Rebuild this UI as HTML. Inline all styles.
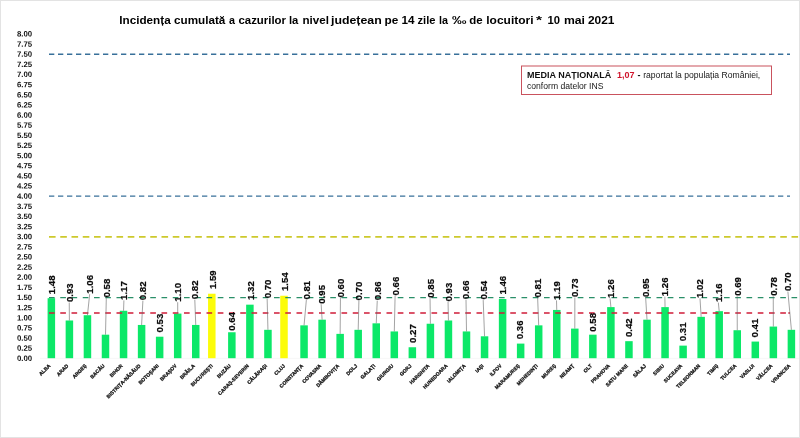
<!DOCTYPE html>
<html lang="ro"><head><meta charset="utf-8"><title>Incidența cumulată a cazurilor la nivel județean</title>
<style>
html,body{margin:0;padding:0;background:#fff;}
body{width:800px;height:438px;overflow:hidden;position:relative;font-family:"Liberation Sans",sans-serif;}
svg{position:absolute;left:0;top:0;display:block;}
svg text{font-family:"Liberation Sans",sans-serif;}
.ax{font-size:7.8px;font-weight:bold;fill:#111;}
.cat{font-size:5px;font-weight:bold;fill:#151515;stroke:#151515;stroke-width:0.28;text-anchor:end;}
.val{font-size:9.6px;font-weight:bold;fill:#0a0a0a;stroke:#0a0a0a;stroke-width:0.22;}
.ttl{font-size:11.8px;font-weight:bold;fill:#000;}
.ld{stroke:#646464;stroke-width:0.6;fill:none;}
</style></head><body>
<svg width="800" height="438" viewBox="0 0 800 438">
<rect x="0" y="0" width="800" height="438" fill="#ffffff"/>
<rect x="0.5" y="0.5" width="799" height="437" fill="none" stroke="#e3e3e3" stroke-width="1"/>
<g class="ttl">
<text x="119.3" y="24" textLength="51.4" lengthAdjust="spacingAndGlyphs">Incidența</text>
<text x="174" y="24" textLength="51.3" lengthAdjust="spacingAndGlyphs">cumulată</text>
<text x="229" y="24" textLength="6" lengthAdjust="spacingAndGlyphs">a</text>
<text x="238.5" y="24" textLength="47.5" lengthAdjust="spacingAndGlyphs">cazurilor</text>
<text x="288.9" y="24" textLength="9.4" lengthAdjust="spacingAndGlyphs">la</text>
<text x="302.5" y="24" textLength="26.5" lengthAdjust="spacingAndGlyphs">nivel</text>
<text x="331" y="24" textLength="50.7" lengthAdjust="spacingAndGlyphs">județean</text>
<text x="384.5" y="24" textLength="13.8" lengthAdjust="spacingAndGlyphs">pe</text>
<text x="401.5" y="24" textLength="13" lengthAdjust="spacingAndGlyphs">14</text>
<text x="417.5" y="24" textLength="18" lengthAdjust="spacingAndGlyphs">zile</text>
<text x="439" y="24" textLength="9" lengthAdjust="spacingAndGlyphs">la</text>
<text x="452" y="24" textLength="14.5" lengthAdjust="spacingAndGlyphs">‰</text>
<text x="469.3" y="24" textLength="13.4" lengthAdjust="spacingAndGlyphs">de</text>
<text x="486.3" y="24" textLength="47.2" lengthAdjust="spacingAndGlyphs">locuitori</text>
<text x="536" y="24" textLength="6" lengthAdjust="spacingAndGlyphs">*</text>
<text x="547.5" y="24" textLength="12.5" lengthAdjust="spacingAndGlyphs">10</text>
<text x="564" y="24" textLength="21" lengthAdjust="spacingAndGlyphs">mai</text>
<text x="588" y="24" textLength="26.5" lengthAdjust="spacingAndGlyphs">2021</text>
</g>
<g class="ax">
<text transform="translate(17 36.55) rotate(0.03)">8.00</text>
<text transform="translate(17 46.69) rotate(0.03)">7.75</text>
<text transform="translate(17 56.82) rotate(0.03)">7.50</text>
<text transform="translate(17 66.96) rotate(0.03)">7.25</text>
<text transform="translate(17 77.1) rotate(0.03)">7.00</text>
<text transform="translate(17 87.24) rotate(0.03)">6.75</text>
<text transform="translate(17 97.38) rotate(0.03)">6.50</text>
<text transform="translate(17 107.51) rotate(0.03)">6.25</text>
<text transform="translate(17 117.65) rotate(0.03)">6.00</text>
<text transform="translate(17 127.79) rotate(0.03)">5.75</text>
<text transform="translate(17 137.93) rotate(0.03)">5.50</text>
<text transform="translate(17 148.06) rotate(0.03)">5.25</text>
<text transform="translate(17 158.2) rotate(0.03)">5.00</text>
<text transform="translate(17 168.34) rotate(0.03)">4.75</text>
<text transform="translate(17 178.47) rotate(0.03)">4.50</text>
<text transform="translate(17 188.61) rotate(0.03)">4.25</text>
<text transform="translate(17 198.75) rotate(0.03)">4.00</text>
<text transform="translate(17 208.89) rotate(0.03)">3.75</text>
<text transform="translate(17 219.03) rotate(0.03)">3.50</text>
<text transform="translate(17 229.16) rotate(0.03)">3.25</text>
<text transform="translate(17 239.3) rotate(0.03)">3.00</text>
<text transform="translate(17 249.44) rotate(0.03)">2.75</text>
<text transform="translate(17 259.57) rotate(0.03)">2.50</text>
<text transform="translate(17 269.71) rotate(0.03)">2.25</text>
<text transform="translate(17 279.85) rotate(0.03)">2.00</text>
<text transform="translate(17 289.99) rotate(0.03)">1.75</text>
<text transform="translate(17 300.12) rotate(0.03)">1.50</text>
<text transform="translate(17 310.26) rotate(0.03)">1.25</text>
<text transform="translate(17 320.4) rotate(0.03)">1.00</text>
<text transform="translate(17 330.54) rotate(0.03)">0.75</text>
<text transform="translate(17 340.68) rotate(0.03)">0.50</text>
<text transform="translate(17 350.81) rotate(0.03)">0.25</text>
<text transform="translate(17 360.95) rotate(0.03)">0.00</text>
</g>
<line x1="40" y1="358.4" x2="799" y2="358.4" stroke="#f5f5f5" stroke-width="0.8"/>
<g>
<rect x="47.6" y="298.19" width="7.5" height="60.01" fill="#0ce868"/>
<rect x="65.65" y="320.49" width="7.5" height="37.71" fill="#0ce868"/>
<rect x="83.7" y="315.22" width="7.5" height="42.98" fill="#0ce868"/>
<rect x="101.75" y="334.68" width="7.5" height="23.52" fill="#0ce868"/>
<rect x="119.8" y="310.76" width="7.5" height="47.44" fill="#0ce868"/>
<rect x="137.85" y="324.95" width="7.5" height="33.25" fill="#0ce868"/>
<rect x="155.9" y="336.71" width="7.5" height="21.49" fill="#0ce868"/>
<rect x="173.95" y="313.59" width="7.5" height="44.61" fill="#0ce868"/>
<rect x="192" y="324.95" width="7.5" height="33.25" fill="#0ce868"/>
<rect x="208.05" y="293.73" width="7.5" height="64.47" fill="#fcfc0a"/>
<rect x="228.1" y="332.25" width="7.5" height="25.95" fill="#0ce868"/>
<rect x="246.15" y="304.67" width="7.5" height="53.53" fill="#0ce868"/>
<rect x="264.2" y="329.81" width="7.5" height="28.38" fill="#0ce868"/>
<rect x="280.25" y="295.75" width="7.5" height="62.45" fill="#fcfc0a"/>
<rect x="300.3" y="325.35" width="7.5" height="32.85" fill="#0ce868"/>
<rect x="318.35" y="319.68" width="7.5" height="38.52" fill="#0ce868"/>
<rect x="336.4" y="333.87" width="7.5" height="24.33" fill="#0ce868"/>
<rect x="354.45" y="329.81" width="7.5" height="28.38" fill="#0ce868"/>
<rect x="372.5" y="323.33" width="7.5" height="34.87" fill="#0ce868"/>
<rect x="390.55" y="331.44" width="7.5" height="26.76" fill="#0ce868"/>
<rect x="408.6" y="347.25" width="7.5" height="10.95" fill="#0ce868"/>
<rect x="426.65" y="323.73" width="7.5" height="34.47" fill="#0ce868"/>
<rect x="444.7" y="320.49" width="7.5" height="37.71" fill="#0ce868"/>
<rect x="462.75" y="331.44" width="7.5" height="26.76" fill="#0ce868"/>
<rect x="480.8" y="336.3" width="7.5" height="21.9" fill="#0ce868"/>
<rect x="498.85" y="299" width="7.5" height="59.2" fill="#0ce868"/>
<rect x="516.9" y="343.6" width="7.5" height="14.6" fill="#0ce868"/>
<rect x="534.95" y="325.35" width="7.5" height="32.85" fill="#0ce868"/>
<rect x="553" y="309.95" width="7.5" height="48.25" fill="#0ce868"/>
<rect x="571.05" y="328.6" width="7.5" height="29.6" fill="#0ce868"/>
<rect x="589.1" y="334.68" width="7.5" height="23.52" fill="#0ce868"/>
<rect x="607.15" y="307.11" width="7.5" height="51.09" fill="#0ce868"/>
<rect x="625.2" y="341.17" width="7.5" height="17.03" fill="#0ce868"/>
<rect x="643.25" y="319.68" width="7.5" height="38.52" fill="#0ce868"/>
<rect x="661.3" y="307.11" width="7.5" height="51.09" fill="#0ce868"/>
<rect x="679.35" y="345.63" width="7.5" height="12.57" fill="#0ce868"/>
<rect x="697.4" y="316.84" width="7.5" height="41.36" fill="#0ce868"/>
<rect x="715.45" y="311.16" width="7.5" height="47.04" fill="#0ce868"/>
<rect x="733.5" y="330.22" width="7.5" height="27.98" fill="#0ce868"/>
<rect x="751.55" y="341.57" width="7.5" height="16.63" fill="#0ce868"/>
<rect x="769.6" y="326.57" width="7.5" height="31.63" fill="#0ce868"/>
<rect x="787.65" y="329.81" width="7.5" height="28.38" fill="#0ce868"/>
</g>
<line x1="49" y1="54.27" x2="790" y2="54.27" stroke="#38709a" stroke-width="1.4" stroke-dasharray="5.3 3.7"/>
<line x1="49" y1="196.1" x2="790" y2="196.1" stroke="#38709a" stroke-width="1.4" stroke-dasharray="5.3 3.7"/>
<line x1="49" y1="236.85" x2="799" y2="236.85" stroke="#cdc92c" stroke-width="1.8" stroke-dasharray="6.6 4.65"/>
<line x1="49" y1="297.6" x2="799" y2="297.6" stroke="#2a8f68" stroke-width="1.3" stroke-dasharray="5.65 5.6"/>
<line x1="49" y1="313" x2="790" y2="313" stroke="#d01c38" stroke-width="1.6" stroke-dasharray="5.65 5.6"/>
<line x1="788.3" y1="313" x2="790" y2="313" stroke="#d01c38" stroke-width="1.6"/>
<g class="ld">
<line x1="69.25" y1="302.55" x2="69.4" y2="320.49"/>
<line x1="89.7" y1="294.15" x2="87.45" y2="315.22"/>
<line x1="106.3" y1="297.9" x2="105.5" y2="334.68"/>
<line x1="123.9" y1="300.4" x2="123.55" y2="310.76"/>
<line x1="142.9" y1="300.7" x2="141.6" y2="324.95"/>
<line x1="177.7" y1="302.2" x2="177.7" y2="313.59"/>
<line x1="194.8" y1="299.7" x2="195.75" y2="324.95"/>
<line x1="267.15" y1="298.8" x2="267.95" y2="329.81"/>
<line x1="306.35" y1="300.05" x2="304.05" y2="325.35"/>
<line x1="321.15" y1="304.2" x2="322.1" y2="319.68"/>
<line x1="340.45" y1="297.9" x2="340.15" y2="333.87"/>
<line x1="358.9" y1="300.9" x2="358.2" y2="329.81"/>
<line x1="377.25" y1="300.7" x2="376.25" y2="323.33"/>
<line x1="395.1" y1="295.9" x2="394.3" y2="331.44"/>
<line x1="430.05" y1="298.15" x2="430.4" y2="323.73"/>
<line x1="448.05" y1="301.9" x2="448.45" y2="320.49"/>
<line x1="466" y1="299.7" x2="466.5" y2="331.44"/>
<line x1="483.2" y1="300.05" x2="484.55" y2="336.3"/>
<line x1="537.65" y1="297.9" x2="538.7" y2="325.35"/>
<line x1="556.5" y1="300.4" x2="556.75" y2="309.95"/>
<line x1="574.85" y1="297.55" x2="574.8" y2="328.6"/>
<line x1="610.05" y1="298.4" x2="610.9" y2="307.11"/>
<line x1="645.65" y1="297.55" x2="647" y2="319.68"/>
<line x1="664.85" y1="296.65" x2="665.05" y2="307.11"/>
<line x1="700" y1="298.4" x2="701.15" y2="316.84"/>
<line x1="718.35" y1="302.55" x2="719.2" y2="311.16"/>
<line x1="737.2" y1="296.3" x2="737.25" y2="330.22"/>
<line x1="773.25" y1="296.3" x2="773.35" y2="326.57"/>
<line x1="787.9" y1="291.6" x2="791.4" y2="329.81"/>
</g>
<g class="val">
<text transform="translate(55.1 294.15) rotate(-90)" textLength="18.7" lengthAdjust="spacingAndGlyphs">1.48</text>
<text transform="translate(72.7 302.05) rotate(-90)" textLength="18.7" lengthAdjust="spacingAndGlyphs">0.93</text>
<text transform="translate(93.15 293.65) rotate(-90)" textLength="18.7" lengthAdjust="spacingAndGlyphs">1.06</text>
<text transform="translate(109.75 297.4) rotate(-90)" textLength="18.7" lengthAdjust="spacingAndGlyphs">0.58</text>
<text transform="translate(127.35 299.9) rotate(-90)" textLength="18.7" lengthAdjust="spacingAndGlyphs">1.17</text>
<text transform="translate(146.35 300.2) rotate(-90)" textLength="18.7" lengthAdjust="spacingAndGlyphs">0.82</text>
<text transform="translate(162.95 332.4) rotate(-90)" textLength="18.7" lengthAdjust="spacingAndGlyphs">0.53</text>
<text transform="translate(181.15 301.7) rotate(-90)" textLength="18.7" lengthAdjust="spacingAndGlyphs">1.10</text>
<text transform="translate(198.25 299.2) rotate(-90)" textLength="18.7" lengthAdjust="spacingAndGlyphs">0.82</text>
<text transform="translate(215.8 289.1) rotate(-90)" textLength="18.7" lengthAdjust="spacingAndGlyphs">1.59</text>
<text transform="translate(235.45 330.8) rotate(-90)" textLength="18.7" lengthAdjust="spacingAndGlyphs">0.64</text>
<text transform="translate(253.5 299.9) rotate(-90)" textLength="18.7" lengthAdjust="spacingAndGlyphs">1.32</text>
<text transform="translate(270.6 298.3) rotate(-90)" textLength="18.7" lengthAdjust="spacingAndGlyphs">0.70</text>
<text transform="translate(287.8 291.1) rotate(-90)" textLength="18.7" lengthAdjust="spacingAndGlyphs">1.54</text>
<text transform="translate(309.8 299.55) rotate(-90)" textLength="18.7" lengthAdjust="spacingAndGlyphs">0.81</text>
<text transform="translate(324.6 303.7) rotate(-90)" textLength="18.7" lengthAdjust="spacingAndGlyphs">0.95</text>
<text transform="translate(343.9 297.4) rotate(-90)" textLength="18.7" lengthAdjust="spacingAndGlyphs">0.60</text>
<text transform="translate(362.35 300.4) rotate(-90)" textLength="18.7" lengthAdjust="spacingAndGlyphs">0.70</text>
<text transform="translate(380.7 300.2) rotate(-90)" textLength="18.7" lengthAdjust="spacingAndGlyphs">0.86</text>
<text transform="translate(398.55 295.4) rotate(-90)" textLength="18.7" lengthAdjust="spacingAndGlyphs">0.66</text>
<text transform="translate(415.7 342.95) rotate(-90)" textLength="18.7" lengthAdjust="spacingAndGlyphs">0.27</text>
<text transform="translate(433.5 297.65) rotate(-90)" textLength="18.7" lengthAdjust="spacingAndGlyphs">0.85</text>
<text transform="translate(451.5 301.4) rotate(-90)" textLength="18.7" lengthAdjust="spacingAndGlyphs">0.93</text>
<text transform="translate(469.45 299.2) rotate(-90)" textLength="18.7" lengthAdjust="spacingAndGlyphs">0.66</text>
<text transform="translate(486.65 299.55) rotate(-90)" textLength="18.7" lengthAdjust="spacingAndGlyphs">0.54</text>
<text transform="translate(505.9 294.5) rotate(-90)" textLength="18.7" lengthAdjust="spacingAndGlyphs">1.46</text>
<text transform="translate(523.45 339.2) rotate(-90)" textLength="18.7" lengthAdjust="spacingAndGlyphs">0.36</text>
<text transform="translate(541.1 297.4) rotate(-90)" textLength="18.7" lengthAdjust="spacingAndGlyphs">0.81</text>
<text transform="translate(559.95 299.9) rotate(-90)" textLength="18.7" lengthAdjust="spacingAndGlyphs">1.19</text>
<text transform="translate(578.3 297.05) rotate(-90)" textLength="18.7" lengthAdjust="spacingAndGlyphs">0.73</text>
<text transform="translate(596.1 331.65) rotate(-90)" textLength="18.7" lengthAdjust="spacingAndGlyphs">0.58</text>
<text transform="translate(613.5 297.9) rotate(-90)" textLength="18.7" lengthAdjust="spacingAndGlyphs">1.26</text>
<text transform="translate(631.8 337.05) rotate(-90)" textLength="18.7" lengthAdjust="spacingAndGlyphs">0.42</text>
<text transform="translate(649.1 297.05) rotate(-90)" textLength="18.7" lengthAdjust="spacingAndGlyphs">0.95</text>
<text transform="translate(668.3 296.15) rotate(-90)" textLength="18.7" lengthAdjust="spacingAndGlyphs">1.26</text>
<text transform="translate(686.1 341.2) rotate(-90)" textLength="18.7" lengthAdjust="spacingAndGlyphs">0.31</text>
<text transform="translate(703.45 297.9) rotate(-90)" textLength="18.7" lengthAdjust="spacingAndGlyphs">1.02</text>
<text transform="translate(721.8 302.05) rotate(-90)" textLength="18.7" lengthAdjust="spacingAndGlyphs">1.16</text>
<text transform="translate(740.65 295.8) rotate(-90)" textLength="18.7" lengthAdjust="spacingAndGlyphs">0.69</text>
<text transform="translate(758.45 337.4) rotate(-90)" textLength="18.7" lengthAdjust="spacingAndGlyphs">0.41</text>
<text transform="translate(776.7 295.8) rotate(-90)" textLength="18.7" lengthAdjust="spacingAndGlyphs">0.78</text>
<text transform="translate(791.35 291.1) rotate(-90)" textLength="18.7" lengthAdjust="spacingAndGlyphs">0.70</text>
</g>
<g class="cat">
<text transform="translate(50.85 366.2) rotate(-45)">ALBA</text>
<text transform="translate(68.9 366.2) rotate(-45)">ARAD</text>
<text transform="translate(86.95 366.2) rotate(-45)">ARGEȘ</text>
<text transform="translate(105 366.2) rotate(-45)">BACĂU</text>
<text transform="translate(123.05 366.2) rotate(-45)">BIHOR</text>
<text transform="translate(141.1 366.2) rotate(-45)">BISTRIȚA-NĂSĂUD</text>
<text transform="translate(159.15 366.2) rotate(-45)">BOTOȘANI</text>
<text transform="translate(177.2 366.2) rotate(-45)">BRAȘOV</text>
<text transform="translate(195.25 366.2) rotate(-45)">BRĂILA</text>
<text transform="translate(213.3 366.2) rotate(-45)">BUCUREȘTI</text>
<text transform="translate(231.35 366.2) rotate(-45)">BUZĂU</text>
<text transform="translate(249.4 366.2) rotate(-45)">CARAȘ-SEVERIN</text>
<text transform="translate(267.45 366.2) rotate(-45)">CĂLĂRAȘI</text>
<text transform="translate(285.5 366.2) rotate(-45)">CLUJ</text>
<text transform="translate(303.55 366.2) rotate(-45)">CONSTANȚA</text>
<text transform="translate(321.6 366.2) rotate(-45)">COVASNA</text>
<text transform="translate(339.65 366.2) rotate(-45)">DÂMBOVIȚA</text>
<text transform="translate(357.7 366.2) rotate(-45)">DOLJ</text>
<text transform="translate(375.75 366.2) rotate(-45)">GALAȚI</text>
<text transform="translate(393.8 366.2) rotate(-45)">GIURGIU</text>
<text transform="translate(411.85 366.2) rotate(-45)">GORJ</text>
<text transform="translate(429.9 366.2) rotate(-45)">HARGHITA</text>
<text transform="translate(447.95 366.2) rotate(-45)">HUNEDOARA</text>
<text transform="translate(466 366.2) rotate(-45)">IALOMIȚA</text>
<text transform="translate(484.05 366.2) rotate(-45)">IAȘI</text>
<text transform="translate(502.1 366.2) rotate(-45)">ILFOV</text>
<text transform="translate(520.15 366.2) rotate(-45)">MARAMUREȘ</text>
<text transform="translate(538.2 366.2) rotate(-45)">MEHEDINȚI</text>
<text transform="translate(556.25 366.2) rotate(-45)">MUREȘ</text>
<text transform="translate(574.3 366.2) rotate(-45)">NEAMȚ</text>
<text transform="translate(592.35 366.2) rotate(-45)">OLT</text>
<text transform="translate(610.4 366.2) rotate(-45)">PRAHOVA</text>
<text transform="translate(628.45 366.2) rotate(-45)">SATU MARE</text>
<text transform="translate(646.5 366.2) rotate(-45)">SĂLAJ</text>
<text transform="translate(664.55 366.2) rotate(-45)">SIBIU</text>
<text transform="translate(682.6 366.2) rotate(-45)">SUCEAVA</text>
<text transform="translate(700.65 366.2) rotate(-45)">TELEORMAN</text>
<text transform="translate(718.7 366.2) rotate(-45)">TIMIȘ</text>
<text transform="translate(736.75 366.2) rotate(-45)">TULCEA</text>
<text transform="translate(754.8 366.2) rotate(-45)">VASLUI</text>
<text transform="translate(772.85 366.2) rotate(-45)">VÂLCEA</text>
<text transform="translate(790.9 366.2) rotate(-45)">VRANCEA</text>
</g>
<rect x="521.5" y="66" width="250" height="28.5" fill="#ffffff" stroke="#c9525d" stroke-width="1"/>
<text x="527" y="77.8" font-size="9" font-weight="bold" fill="#111">MEDIA NAȚIONALĂ</text>
<text x="617" y="77.8" font-size="9" font-weight="bold" fill="#d0142c">1,07</text>
<text x="637.6" y="77.8" font-size="9" font-weight="bold" fill="#111">-</text>
<text x="643.2" y="77.8" font-size="8.6" fill="#181818">raportat la populația României,</text>
<text x="527" y="88.7" font-size="8.6" fill="#181818">conform datelor INS</text>
</svg>
</body></html>
